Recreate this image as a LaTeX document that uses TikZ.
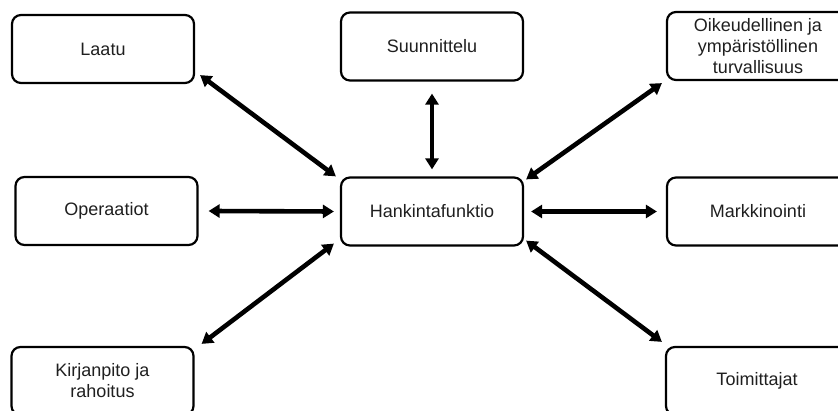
\documentclass[tikz,border=0pt]{standalone}
\usepackage{fontspec}
\setmainfont{Liberation Sans}
\usetikzlibrary{arrows.meta}
\begin{document}
\begin{tikzpicture}[x=1pt,y=-1pt,
  box/.style={draw=black, line width=2.2pt, rounded corners=9pt,
    minimum width=182pt, minimum height=68pt, align=center,
    inner sep=0pt, font=\fontsize{18}{21}\selectfont, text=black!88},
  dbl/.style={line width=4.6pt,
    {Triangle[length=11pt,width=13pt]}-{Triangle[length=11pt,width=13pt]}}]
  \useasboundingbox (0,0) rectangle (838,411);
  \clip (0,0) rectangle (838,411);

  % surrounding functions
  \node[box] (laatu) at (103,49)   {Laatu};
  \node[box] (suun)  at (432,46.5) {Suunnittelu};
  \node[box] (oik)   at (758,46)   {Oikeudellinen ja\\ympäristöllinen\\turvallisuus};
  \node[box] (oper)  at (106.5,211){Operaatiot};
  \node[box] (hank)  at (432,211.5){Hankintafunktio};
  \node[box] (mark)  at (758,211.5){Markkinointi};
  \node[box] (kirj)  at (102.5,381){Kirjanpito ja\\rahoitus};
  \node[box] (toim)  at (757,381)  {Toimittajat};

  % two-way links to the central function
  \draw[dbl] ([shift={(5,-9)}]laatu.south east) -- ([shift={(-4,0)}]hank.north west);
  \draw[dbl] ([shift={(0,12)}]suun.south) -- ([shift={(0,-7)}]hank.north);
  \draw[dbl] ([shift={(-4,2)}]oik.south west) -- ([shift={(2,3)}]hank.north east);
  \draw[dbl] ([shift={(10,0)}]oper.east) -- ([shift={(-6,0)}]hank.west);
  \draw[dbl] ([shift={(7,0)}]hank.east) -- ([shift={(-9,0)}]mark.west);
  \draw[dbl] ([shift={(7,-2)}]kirj.north east) -- ([shift={(-6,-3)}]hank.south west);
  \draw[dbl] ([shift={(2,-6)}]hank.south east) -- ([shift={(-3,-4)}]toim.north west);
\end{tikzpicture}
\end{document}
